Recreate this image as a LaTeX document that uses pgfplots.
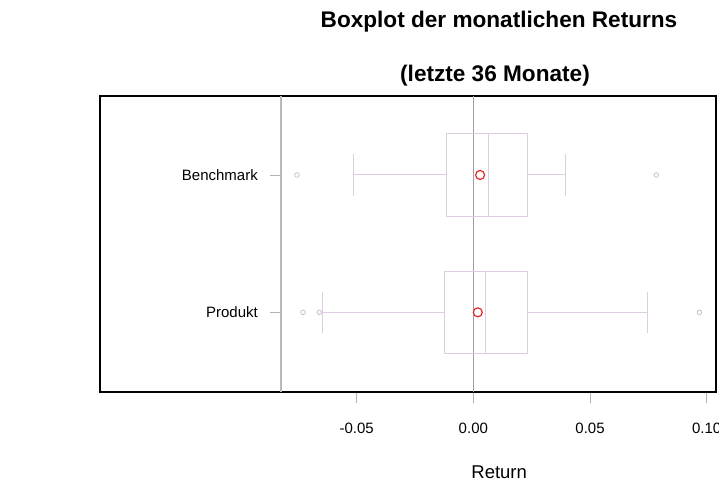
\documentclass[border=0pt]{standalone}
\usepackage{pgfplots}
\pgfplotsset{compat=1.18}
\usepgfplotslibrary{statistics}
\usepackage{fontspec}
\setmainfont{Liberation Sans}
\definecolor{boxcol}{RGB}{222,205,224}
\definecolor{outcol}{RGB}{205,188,212}
\definecolor{meancol}{RGB}{230,40,40}
\begin{document}
\begin{tikzpicture}
\begin{axis}[name=ax, scale only axis, width=616pt, height=296pt,
  xmin=-0.16, xmax=0.104, ymin=0.42, ymax=2.575,
  axis line style={black, line width=1.6pt},
  xtick={-0.05,0,0.05,0.1}, xticklabels={-0.05,0.00,0.05,0.10},
  xtick pos=left, tick align=outside, major tick length=11pt,
  x tick style={gray!60, line width=0.8pt},
  ytick={1,2}, yticklabels={Produkt,Benchmark}, y tick style={draw=none},
  yticklabel style={anchor=east, xshift=169pt, inner sep=0pt, font=\fontsize{15}{18}\selectfont},
  xticklabel style={font=\fontsize{15}{18}\selectfont, anchor=base, yshift=-30pt, inner sep=0pt},
  xlabel={Return},
  xlabel style={at={(axis description cs:0.648,0)}, anchor=base, yshift=-86pt, inner sep=0pt, font=\fontsize{18.5}{22}\selectfont},
  clip=false]
\draw[gray!55, line width=1.2pt] (axis cs:-0.0824,0.42) -- (axis cs:-0.0824,2.575);
\draw[gray!75, line width=0.7pt] (axis cs:0,0.42) -- (axis cs:0,2.575);
\draw[gray!60, line width=0.8pt] (axis cs:-0.0824,1) -- (axis cs:-0.0871,1);
\draw[gray!60, line width=0.8pt] (axis cs:-0.0824,2) -- (axis cs:-0.0871,2);
\addplot[boxcol, line width=1pt, solid, mark=none,
  boxplot prepared={draw position=1, lower whisker=-0.0647, lower quartile=-0.0124,
    median=0.0053, upper quartile=0.0233, upper whisker=0.0746,
    box extend=0.6, whisker extend=0.3}] coordinates {};
\addplot[boxcol, line width=1pt, solid, mark=none,
  boxplot prepared={draw position=2, lower whisker=-0.0514, lower quartile=-0.0117,
    median=0.0064, upper quartile=0.0233, upper whisker=0.0394,
    box extend=0.6, whisker extend=0.3}] coordinates {};
\addplot[only marks, mark=o, mark size=2.3pt, outcol, mark options={line width=0.8pt}]
  coordinates {(-0.073,1) (-0.066,1) (0.0969,1) (-0.0756,2) (0.0784,2)};
\addplot[only marks, mark=o, mark size=4.5pt, meancol, mark options={line width=1.2pt}]
  coordinates {(0.0019,1) (0.0029,2)};
\end{axis}
\node[anchor=base, font=\fontsize{22.6}{26}\selectfont\bfseries] at ([xshift=399pt,yshift=68pt]ax.north west) {Boxplot der monatlichen Returns};
\node[anchor=base, font=\fontsize{22.6}{26}\selectfont\bfseries] at ([xshift=395pt,yshift=14pt]ax.north west) {(letzte 36 Monate)};
\pgfresetboundingbox
\path[use as bounding box] ([xshift=-100pt,yshift=-92pt]ax.south west) rectangle ([xshift=3pt,yshift=96pt]ax.north east);
\end{tikzpicture}
\end{document}
